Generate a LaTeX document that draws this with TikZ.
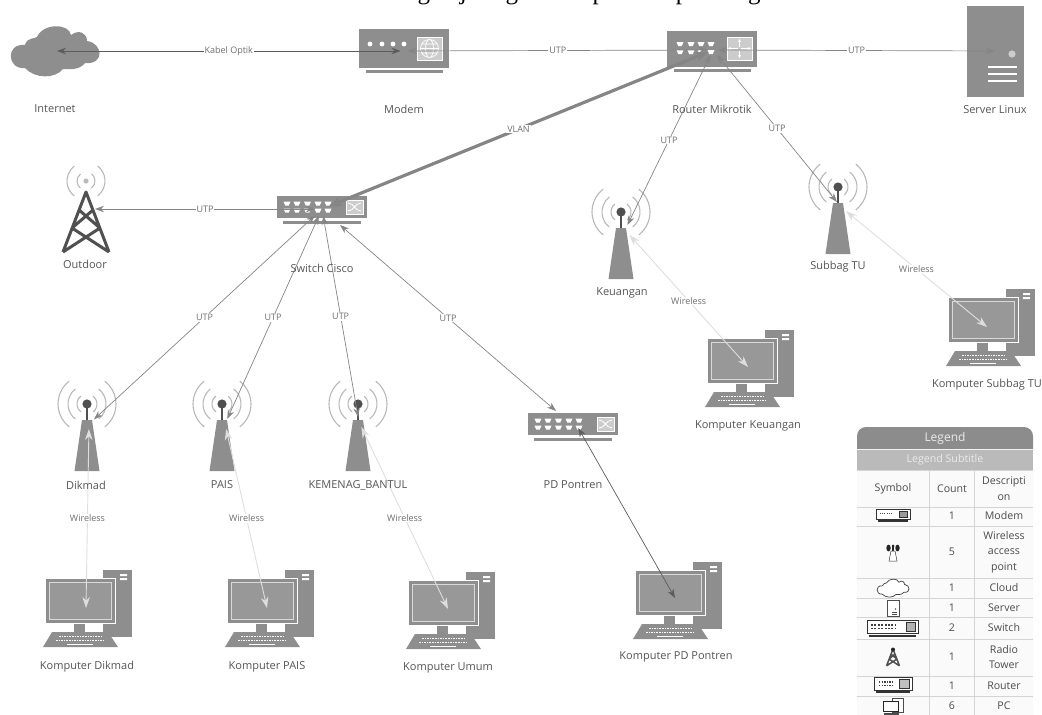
\documentclass[tikz,border=0pt]{standalone}
\usepackage{fontspec}
\setmainfont{Open Sans}
\newfontfamily\titlefont{Liberation Serif}
\usetikzlibrary{arrows.meta}
\definecolor{iconFill}{HTML}{8E8E8E}
\definecolor{iconDark}{HTML}{505050}
\definecolor{waveStroke}{HTML}{B8B8B8}
\definecolor{screenFill}{HTML}{989898}
\definecolor{textGray}{HTML}{555555}
\definecolor{edgeGray}{HTML}{858585}
\definecolor{edgeDark}{HTML}{5C5C5C}
\definecolor{wifiGray}{HTML}{DEDEDE}
\definecolor{panelFill}{HTML}{D0D0D0}
\definecolor{lgdHead}{HTML}{8C8C8C}
\definecolor{lgdSub}{HTML}{BABABA}
\definecolor{lgdRule}{HTML}{D4D4D4}
\tikzset{
  pics/waveicon/.style={code={
    \foreach \r in {#1} {
      \draw[waveStroke,line width=1.1pt] (0,0) ++(-52:\r pt) arc[start angle=-52,end angle=52,radius=\r pt];
      \draw[waveStroke,line width=1.1pt] (0,0) ++(128:\r pt) arc[start angle=128,end angle=232,radius=\r pt];
    }
  }},
  pics/wapicon/.style={code={
    \pic {waveicon={10,19,29}};
    \draw[iconDark,line width=2.4pt] (0,0) -- (0,17);
    \fill[iconDark] (0,0) circle (4.6pt);
    \fill[iconFill] (-5,16) -- (5,16) -- (12.5,67) -- (-12.5,67) -- cycle;
  }},
  pics/towericon/.style={code={
    \draw[iconDark,line width=#1,line join=round] (-23,60) -- (0,0) -- (23,60)
      (-7,18) -- (14,36) -- (-23,60) (7,18) -- (-14,36) -- (23,60);
  }},
  pics/towericon/.default=3pt,
  pics/pcicon/.style={code={
    \fill[iconFill] (23,-31) rectangle (52,36);
    \fill[white] (40,-27) rectangle (47,-25) (40,-23) rectangle (47,-21);
    \fill[iconFill] (-6,23) rectangle (5,31);
    \fill[iconFill] (-28,31) -- (28,31) -- (38,46) -- (-37,46) -- cycle;
    \draw[white,line width=1.4pt,dash pattern=on 1.6pt off 1pt] (-21,35.5) -- (21,35.5) (-24,39.5) -- (24,39.5);
    \draw[white,line width=1.4pt] (-13,43.3) -- (13,43.3);
    \draw[white,fill=iconFill,line width=.8pt] (-34.5,-22.5) rectangle (35,22.5);
    \draw[white!85!black,fill=screenFill,line width=.9pt] (-31,-18.5) rectangle (31,18.5);
  }},
  pics/porticon/.style={code={
    \fill[white] (-3.5,-2) -- (3.5,-2) -- (1.8,2) -- (-1.8,2) -- cycle;
  }},
  pics/switchicon/.style={code={
    \fill[iconFill] (-45,-11) rectangle (45,11);
    \fill[iconFill] (-39,14) rectangle (39,17);
    \foreach \px in {-35,-25,-14.5,-4,6} {
      \pic at (\px,-3.5) {porticon};
      \pic at (\px,3.5) {porticon};
    }
    \draw[white,fill=iconFill!45!white,line width=.8pt] (24,-7) rectangle (41,7);
    \draw[white,line width=.8pt] (26,-4) .. controls (32,-4) and (33,4) .. (39,4) (26,4) .. controls (32,4) and (33,-4) .. (39,-4);
  }},
  pics/routericon/.style={code={
    \fill[iconFill] (-45,-18) rectangle (45,18);
    \fill[iconFill] (-38,20) rectangle (39,23);
    \foreach \px in {-32,-21,-11,-1} {
      \pic at (\px,-5) {porticon};
      \pic at (\px,3) {porticon};
    }
    \draw[white,fill=iconFill!45!white,line width=.8pt] (15,-12) rectangle (40,11);
    \draw[white,line width=.8pt,-{Stealth[length=3pt,width=3pt]}] (27.5,-2.5) -- (27.5,-10);
    \draw[white,line width=.8pt,-{Stealth[length=3pt,width=3pt]}] (29,-0.5) -- (39,-0.5);
    \draw[white,line width=.8pt,-{Stealth[length=3pt,width=3pt]}] (27.5,1.5) -- (27.5,9);
    \draw[white,line width=.8pt,-{Stealth[length=3pt,width=3pt]}] (26,-0.5) -- (16,-0.5);
  }},
  pics/modemicon/.style={code={
    \fill[iconFill] (-45,-20) rectangle (45,19);
    \fill[iconFill] (-38,21) rectangle (39,24);
    \foreach \px in {-34,-22,-11,0} {
      \fill[white] (\px,-5) circle (2.4pt);
    }
    \draw[white,fill=iconFill!45!white,line width=.8pt] (13,-12) rectangle (38,11);
    \draw[white,line width=.7pt] (25.5,-0.5) circle (9pt) (25.5,-0.5) ellipse (4pt and 9pt)
      (16.5,-0.5) -- (34.5,-0.5) (17.5,-5) -- (33.5,-5) (17.5,4) -- (33.5,4);
  }},
  pics/servericon/.style={code={
    \fill[iconFill] (-28,-45) rectangle (29,46);
    \fill[iconFill!45!white] (17,3) circle (3.6pt);
    \draw[white,line width=1.2pt] (-7,16) -- (22,16) (-7,23) -- (22,23) (-7,30) -- (22,30);
  }},
  pics/cloudicon/.style={code={
    \path[#1] (-30,17) .. controls (-48,19) and (-50,-8) .. (-30,-6)
      .. controls (-28,-14) and (-20,-12) .. (-18,-14)
      .. controls (-12,-28) and (14,-28) .. (16,-16)
      .. controls (24,-22) and (32,-18) .. (32,-10)
      .. controls (48,-8) and (50,14) .. (30,12)
      .. controls (24,20) and (12,18) .. (8,18)
      .. controls (0,28) and (-20,28) .. (-30,17) -- cycle;
  }}
}
\begin{document}
\begin{tikzpicture}[
  x=1pt,y=-1pt,
  font=\fontsize{10}{12}\selectfont,
  hub/.style={inner sep=0pt,outer sep=0pt,minimum size=#1},
  hub/.default=0pt,
  lbl/.style={text=textGray,inner sep=0pt,font=\fontsize{11}{13}\selectfont},
  wirelbl/.style={midway,fill=white,inner sep=1pt,text=textGray!85,font=\fontsize{9}{11}\selectfont},
  utp/.style={{Stealth[length=9pt,width=6.5pt]}-{Stealth[length=9pt,width=6.5pt]},line width=.7pt,draw=edgeGray},
  optic/.style={utp,draw=edgeDark,line width=.8pt},
  vlan/.style={{Stealth[length=13pt,width=10pt]}-{Stealth[length=13pt,width=10pt]},line width=3.2pt,draw=edgeGray},
  wifi/.style={{Stealth[length=11pt,width=7.5pt]}-{Stealth[length=11pt,width=7.5pt]},line width=.9pt,draw=wifiGray},
  lgdtxt/.style={text=black!70,inner sep=0pt,align=center,font=\fontsize{10.6}{15.5}\selectfont},
  lgdline/.style={black!80,line width=.8pt},
  lgdbar/.style={black!80,line width=1.4pt}
]
\useasboundingbox (0,0) rectangle (1042,715);
\node[anchor=base,inner sep=0pt,font=\titlefont\fontsize{25}{30}\selectfont] (pagetitle) at (589,-1) {gan jaringan komputer di pandang};

% icons first, the connectors go over them
\pic at (55,51) {cloudicon={fill=iconFill}};
\pic at (404,49) {modemicon};
\pic at (712,49) {routericon};
\pic at (995,51) {servericon};
\pic at (86,181) {waveicon={9,19}};
\fill[iconFill!60!white] (86,181) circle (2.6pt);
\pic at (86,192) {towericon};
\pic at (322,207) {switchicon};
\pic at (573,424) {switchicon};
\pic at (87,404) {wapicon};
\pic at (222,404) {wapicon};
\pic at (358,404) {wapicon};
\pic at (621,212) {wapicon};
\pic at (838,187) {wapicon};
\pic at (80,601) {pcicon};
\pic at (262,601) {pcicon};
\pic at (443,603) {pcicon};
\pic at (670,593) {pcicon};
\pic at (742,361) {pcicon};
\pic at (983,320) {pcicon};

\node[hub] (internet) at (57,51) {};
\node[hub=7pt] (modem) at (404,51) {};
\node[hub=10pt] (router) at (713,50) {};
\node[hub] (server) at (995,51) {};
\node[hub] (outdoor) at (95,209) {};
\node[hub=14pt] (switchcisco) at (322,209) {};
\node[hub] (pdpontren) at (556,411) {};
\node[hub=8pt] (pdport) at (576,424) {};
\node[hub=10pt] (dikmad) at (89,424) {};
\node[hub=10pt] (pais) at (225,424) {};
\node[hub=10pt] (kemenag) at (359,422) {};
\node[hub=10pt] (keuangan) at (625,230) {};
\node[hub=10pt] (subbag) at (841,207) {};
\node[hub] (pcdikmad) at (86,608) {};
\node[hub] (pcpais) at (267,608) {};
\node[hub] (pcumum) at (448,609) {};
\node[hub] (pcpontren) at (675,598) {};
\node[hub] (pckeuangan) at (748,367) {};
\node[hub] (pcsubbag) at (987,327) {};
\node[hub] (switchside) at (340,225) {};

\draw[optic] (internet) -- node[wirelbl] {Kabel Optik} (modem);
\draw[utp] (modem) -- node[wirelbl] {UTP} (router);
\draw[utp] (router) -- node[wirelbl] {UTP} (server);
\draw[vlan] (router) -- node[wirelbl] {VLAN} (switchcisco);
\draw[utp] (router) -- node[wirelbl] {UTP} (keuangan);
\draw[utp] (router) -- node[wirelbl] {UTP} (subbag);
\draw[utp] (switchcisco) -- node[wirelbl] {UTP} (outdoor);
\draw[utp] (switchcisco) -- node[wirelbl] {UTP} (dikmad);
\draw[utp] (switchcisco) -- node[wirelbl] {UTP} (pais);
\draw[utp] (switchcisco) -- node[wirelbl] {UTP} (kemenag);
\draw[utp] (switchside) -- node[wirelbl] {UTP} (pdpontren);
\draw[utp,draw=edgeDark] (pdport) -- (pcpontren);
\draw[wifi] (dikmad) -- node[wirelbl] {Wireless} (pcdikmad);
\draw[wifi] (pais) -- node[wirelbl] {Wireless} (pcpais);
\draw[wifi] (kemenag) -- node[wirelbl] {Wireless} (pcumum);
\draw[wifi] (keuangan) -- node[wirelbl] {Wireless} (pckeuangan);
\draw[wifi] (subbag) -- node[wirelbl] {Wireless} (pcsubbag);

\node[lbl] (internetname) at (55,109) {Internet};
\node[lbl] (modemname) at (404,109) {Modem};
\node[lbl] (routername) at (712,109) {Router Mikrotik};
\node[lbl] (servername) at (995,110) {Server Linux};
\node[lbl] (outdoorname) at (85,264) {Outdoor};
\node[lbl] (cisconame) at (322,268) {Switch Cisco};
\node[lbl] (dikmadname) at (86,485) {Dikmad};
\node[lbl] (paisname) at (222,485) {PAIS};
\node[lbl] (kemenagname) at (358,485) {KEMENAG\_BANTUL};
\node[lbl] (keuanganname) at (622,293) {Keuangan};
\node[lbl] (subbagname) at (838,267) {Subbag TU};
\node[lbl] (pontrenname) at (573,485) {PD Pontren};
\node[lbl] (pcdikmadname) at (87,667) {Komputer Dikmad};
\node[lbl] (pcpaisname) at (267,667) {Komputer PAIS};
\node[lbl] (pcumumname) at (448,668) {Komputer Umum};
\node[lbl] (pcpontrenname) at (676,657) {Komputer PD Pontren};
\node[lbl] (pckeuanganname) at (748,426) {Komputer Keuangan};
\node[lbl] (pcsubbagname) at (987,385) {Komputer Subbag TU};

% legend
\fill[white!98!black] (857,470) rectangle (1033,715);
\fill[lgdHead,rounded corners=9pt] (857,449) -- (857,427) -- (1033,427) -- (1033,449);
\fill[lgdSub] (857,450) rectangle (1033,470);
\foreach \ry in {470,507,526,578,598,617.5,639,676,696} {
  \draw[lgdRule,line width=1pt] (857,\ry) -- (1033,\ry);
}
\draw[lgdRule,line width=1pt] (929,470) -- (929,715) (974,470) -- (974,715);
\node[lgdtxt,text=white!92!black,font=\fontsize{12}{14}\selectfont] (lgdtitle) at (945,438) {Legend};
\node[lgdtxt,text=white!92!black] (lgdsubtitle) at (945,460) {Legend Subtitle};
\node[lgdtxt] (lgdsymbol) at (893,489) {Symbol};
\node[lgdtxt] (lgdcount) at (952,489) {Count};
\node[lgdtxt] (lgddesc) at (1004,488.5) {Descripti\\on};
\node[lgdtxt] (countmodem) at (952,516) {1};
\node[lgdtxt] (descmodem) at (1004,516) {Modem};
\node[lgdtxt] (countwap) at (952,552) {5};
\node[lgdtxt] (descwap) at (1004,552) {Wireless\\access\\point};
\node[lgdtxt] (countcloud) at (952,588) {1};
\node[lgdtxt] (desccloud) at (1004,588) {Cloud};
\node[lgdtxt] (countserver) at (952,608) {1};
\node[lgdtxt] (descserver) at (1004,608) {Server};
\node[lgdtxt] (countswitch) at (952,628) {2};
\node[lgdtxt] (descswitch) at (1004,628) {Switch};
\node[lgdtxt] (counttower) at (952,657) {1};
\node[lgdtxt] (desctower) at (1004,657) {Radio\\Tower};
\node[lgdtxt] (countrouter) at (952,686) {1};
\node[lgdtxt] (descrouter) at (1004,686) {Router};
\node[lgdtxt] (countpc) at (952,706) {6};
\node[lgdtxt] (descpc) at (1004,706) {PC};

% legend symbols
\draw[lgdline,fill=white] (876,509) rectangle (910,519);
\draw[lgdbar] (878,521) -- (908,521);
\draw[black!70,line width=1pt,dash pattern=on 1pt off 1.2pt] (880,513) -- (893,513);
\draw[lgdline,fill=black!40] (899,511) rectangle (907,517);

\draw[black!80,fill=white,line width=.5pt] (891,551) -- (895,551) -- (897,561) -- (889,561) -- cycle;
\draw[black!85,line width=1.4pt] (893,545) -- (893,551);
\fill[black!85] (888.5,548) ellipse (2.2pt and 3.4pt) (897.5,548) ellipse (2.2pt and 3.4pt) (893,546) circle (1.5pt);

\pic[scale=.36] at (893,588) {cloudicon={draw=black!75,fill=white,line width=.7pt}};

\draw[black!70,fill=white,line width=.6pt] (887,600) rectangle (899,616);
\draw[black!70,line width=.7pt] (892,612) -- (897,612) (892,614) -- (897,614);
\fill[black!60] (895.5,609) circle (.8pt);

\draw[lgdline,fill=white] (867,620) rectangle (918,633);
\draw[lgdbar] (869,636) -- (916,636);
\draw[black!75,line width=1.5pt,dash pattern=on 2pt off 1.4pt] (871,625) -- (896,625) (871,628.5) -- (896,628.5);
\draw[lgdline,fill=black!30] (906,622) rectangle (915,631);

\pic[scale=.28] at (893,649) {towericon=1.5pt};
\fill[black!85] (893,649.5) circle (2pt);

\draw[lgdline,fill=white] (874,677) rectangle (912,690);
\draw[lgdbar] (876,692) -- (910,692);
\draw[black!75,line width=1.4pt,dash pattern=on 1.4pt off 1.2pt] (879,682) -- (893,682) (879,685.5) -- (893,685.5);
\draw[lgdline,fill=black!25] (899,679) rectangle (909,688);

\draw[black!70,line width=.7pt,fill=white] (892,698) rectangle (903,712);
\draw[black!85,line width=1pt,fill=white] (883,701) rectangle (898,711);
\fill[black!70] (884,713) rectangle (899,715);
\end{tikzpicture}
\end{document}
